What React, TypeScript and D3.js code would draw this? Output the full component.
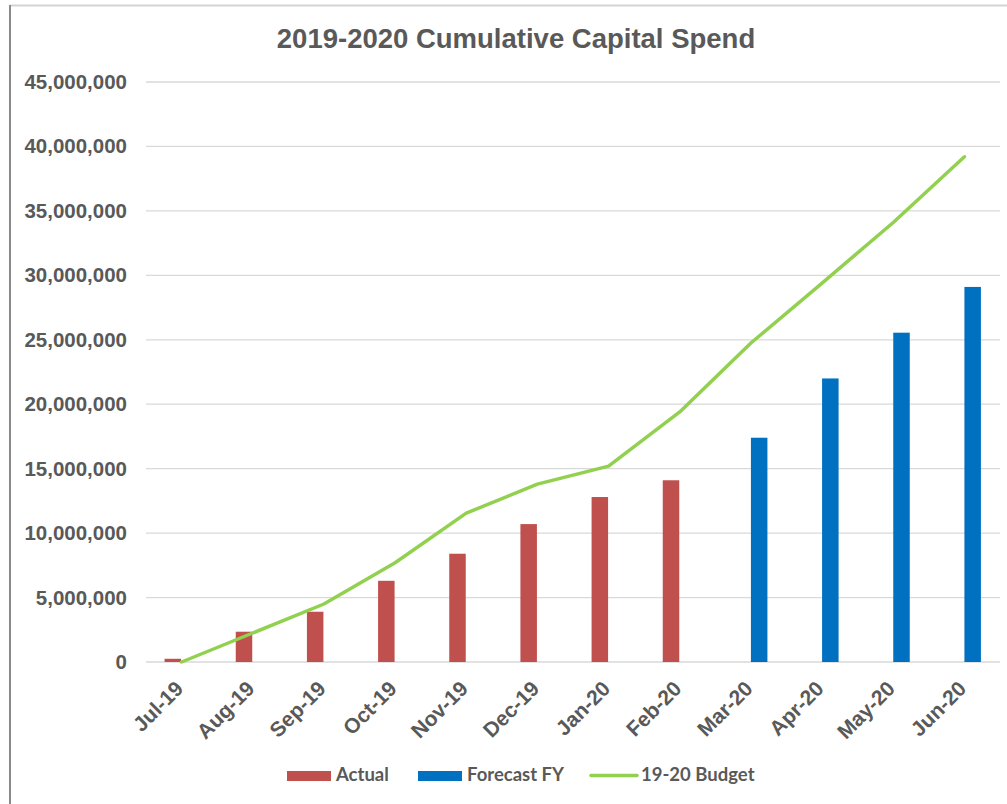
import * as d3 from "d3";

const months = ["Jul-19", "Aug-19", "Sep-19", "Oct-19", "Nov-19", "Dec-19", "Jan-20", "Feb-20", "Mar-20", "Apr-20", "May-20", "Jun-20"];
const actual = [250000, 2350000, 3900000, 6300000, 8400000, 10700000, 12800000, 14100000, null, null, null, null];
const forecast = [null, null, null, null, null, null, null, null, 17400000, 22000000, 25550000, 29100000];
const budget = [0, 2250000, 4500000, 7700000, 11550000, 13800000, 15200000, 19400000, 24750000, 29400000, 34100000, 39200000];
const yTicks = [0, 5000000, 10000000, 15000000, 20000000, 25000000, 30000000, 35000000, 40000000, 45000000];

const W = 1007;
const H = 804;
const textColor = "#595959";
const red = "#C0504D";
const blue = "#0070C0";
const green = "#92D050";

export default function App() {
  const x = d3.scaleBand<string>().domain(months).range([146, 1000]);
  const y = d3.scaleLinear().domain([0, 45000000]).range([662, 82]);
  const inner = d3.scaleBand<string>().domain(["Actual", "Forecast"]).range([0, 34]);
  const center = (m: string) => (x(m) ?? 0) + x.bandwidth() / 2;
  const fmt = d3.format(",");

  const line = d3
    .line<number>()
    .x((_, i) => center(months[i]))
    .y((d) => y(d));

  const bars = (vals: (number | null)[], key: string, color: string) =>
    vals.map((v, i) =>
      v == null ? null : (
        <rect
          key={key + i}
          x={center(months[i]) - 17 + (inner(key) ?? 0)}
          y={y(v)}
          width={inner.bandwidth() - 0.5}
          height={y(0) - y(v)}
          fill={color}
        />
      )
    );

  return (
    <svg
      width={W}
      height={H}
      style={{ position: "absolute", left: 0, top: 0, background: "#fff" }}
      fontFamily="Liberation Sans, Arial, sans-serif"
    >
      <rect x={0} y={0} width={W} height={H} fill="#fff" />
      {/* chart frame (cropped) */}
      <line x1={10} x2={W} y1={5.5} y2={5.5} stroke="#d4d4d4" strokeWidth={2} />
      <line x1={10} x2={10} y1={5} y2={H} stroke="#8a8a8a" strokeWidth={2} />

      <text x={516} y={48} textAnchor="middle" fontSize={27.5} fontWeight="bold" fill={textColor}>
        2019-2020 Cumulative Capital Spend
      </text>

      {yTicks.map((t) => (
        <g key={t}>
          <line x1={146} x2={1000} y1={y(t)} y2={y(t)} stroke="#d9d9d9" strokeWidth={1.3} />
          <text x={127} y={y(t) + 7} textAnchor="end" fontSize={20.5} fontWeight="bold" fill={textColor}>
            {fmt(t)}
          </text>
        </g>
      ))}

      {bars(actual, "Actual", red)}
      {bars(forecast, "Forecast", blue)}

      <path d={line(budget) ?? ""} fill="none" stroke={green} strokeWidth={3.5} strokeLinejoin="round" strokeLinecap="round" />

      {months.map((m) => (
        <text
          key={m}
          transform={`translate(${center(m) + 3},${690}) rotate(-45)`}
          textAnchor="end"
          fontSize={21}
          fontWeight="bold"
          fill={textColor}
        >
          {m}
        </text>
      ))}

      {/* legend */}
      <g fontFamily="Lato, sans-serif" fontSize={18.5} fontWeight={700} fill={textColor}>
        <rect x={287} y={771} width={44} height={10} fill={red} />
        <text x={336} y={781}>Actual</text>
        <rect x={418} y={771} width={44} height={10} fill={blue} />
        <text x={467} y={781}>Forecast FY</text>
        <line x1={591} x2={637} y1={775.5} y2={775.5} stroke={green} strokeWidth={3.5} strokeLinecap="round" />
        <text x={641} y={781}>19-20 Budget</text>
      </g>
    </svg>
  );
}
